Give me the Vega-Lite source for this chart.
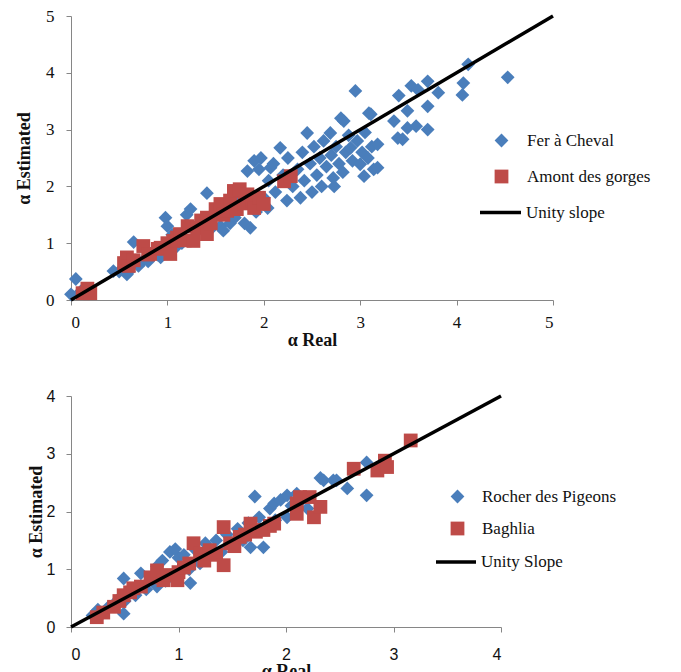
{
  "$schema": "https://vega.github.io/schema/vega-lite/v6.json",
  "background": "white",
  "padding": {"left": 15, "top": 7, "right": 5, "bottom": 0},
  "spacing": 39,
  "config": {
    "font": "Liberation Serif",
    "view": {"stroke": null},
    "axis": {"grid": false, "domainColor": "#868686", "tickColor": "#868686", "tickSize": 5, "labelColor": "#111", "titleColor": "#111", "titleFont": "Liberation Serif", "titleFontWeight": "bold", "titleFontSize": 18, "format": "d"},
    "legend": {"labelFont": "Liberation Serif", "labelFontSize": 17, "labelColor": "#111", "labelLimit": 300, "title": null}
  },
  "datasets": {
    "top": [
      {"series": "Fer à Cheval", "x": 0.0, "y": 0.1}, {"series": "Fer à Cheval", "x": 0.05, "y": 0.37}, {"series": "Fer à Cheval", "x": 0.1, "y": 0.15},
      {"series": "Fer à Cheval", "x": 0.44, "y": 0.51}, {"series": "Fer à Cheval", "x": 0.5, "y": 0.5}, {"series": "Fer à Cheval", "x": 0.55, "y": 0.55}, {"series": "Fer à Cheval", "x": 0.58, "y": 0.45}, {"series": "Fer à Cheval", "x": 0.6, "y": 0.5},
      {"series": "Fer à Cheval", "x": 0.65, "y": 1.02}, {"series": "Fer à Cheval", "x": 0.7, "y": 0.6}, {"series": "Fer à Cheval", "x": 0.75, "y": 0.7}, {"series": "Fer à Cheval", "x": 0.8, "y": 0.68},
      {"series": "Fer à Cheval", "x": 0.85, "y": 0.85}, {"series": "Fer à Cheval", "x": 0.9, "y": 0.8}, {"series": "Fer à Cheval", "x": 0.93, "y": 0.75}, {"series": "Fer à Cheval", "x": 0.95, "y": 0.95},
      {"series": "Fer à Cheval", "x": 0.98, "y": 1.45}, {"series": "Fer à Cheval", "x": 1.0, "y": 1.3}, {"series": "Fer à Cheval", "x": 1.05, "y": 1.15}, {"series": "Fer à Cheval", "x": 1.1, "y": 0.95},
      {"series": "Fer à Cheval", "x": 1.15, "y": 1.0}, {"series": "Fer à Cheval", "x": 1.2, "y": 1.5}, {"series": "Fer à Cheval", "x": 1.24, "y": 1.6}, {"series": "Fer à Cheval", "x": 1.3, "y": 1.2},
      {"series": "Fer à Cheval", "x": 1.35, "y": 1.35}, {"series": "Fer à Cheval", "x": 1.41, "y": 1.88}, {"series": "Fer à Cheval", "x": 1.45, "y": 1.25}, {"series": "Fer à Cheval", "x": 1.5, "y": 1.55},
      {"series": "Fer à Cheval", "x": 1.55, "y": 1.3}, {"series": "Fer à Cheval", "x": 1.58, "y": 1.22}, {"series": "Fer à Cheval", "x": 1.6, "y": 1.7}, {"series": "Fer à Cheval", "x": 1.65, "y": 1.35},
      {"series": "Fer à Cheval", "x": 1.7, "y": 1.45}, {"series": "Fer à Cheval", "x": 1.75, "y": 1.8}, {"series": "Fer à Cheval", "x": 1.8, "y": 1.35}, {"series": "Fer à Cheval", "x": 1.83, "y": 2.27},
      {"series": "Fer à Cheval", "x": 1.86, "y": 1.27}, {"series": "Fer à Cheval", "x": 1.9, "y": 2.45}, {"series": "Fer à Cheval", "x": 1.92, "y": 1.55}, {"series": "Fer à Cheval", "x": 1.95, "y": 2.3},
      {"series": "Fer à Cheval", "x": 1.97, "y": 2.5}, {"series": "Fer à Cheval", "x": 2.0, "y": 1.8}, {"series": "Fer à Cheval", "x": 2.04, "y": 1.62}, {"series": "Fer à Cheval", "x": 2.05, "y": 2.1},
      {"series": "Fer à Cheval", "x": 2.07, "y": 2.33}, {"series": "Fer à Cheval", "x": 2.1, "y": 2.4}, {"series": "Fer à Cheval", "x": 2.12, "y": 1.9}, {"series": "Fer à Cheval", "x": 2.17, "y": 2.68},
      {"series": "Fer à Cheval", "x": 2.2, "y": 2.2}, {"series": "Fer à Cheval", "x": 2.24, "y": 1.75}, {"series": "Fer à Cheval", "x": 2.25, "y": 2.5}, {"series": "Fer à Cheval", "x": 2.3, "y": 2.0},
      {"series": "Fer à Cheval", "x": 2.35, "y": 2.3}, {"series": "Fer à Cheval", "x": 2.38, "y": 1.8}, {"series": "Fer à Cheval", "x": 2.4, "y": 2.6}, {"series": "Fer à Cheval", "x": 2.42, "y": 2.1},
      {"series": "Fer à Cheval", "x": 2.45, "y": 2.94}, {"series": "Fer à Cheval", "x": 2.48, "y": 2.4}, {"series": "Fer à Cheval", "x": 2.5, "y": 1.9}, {"series": "Fer à Cheval", "x": 2.52, "y": 2.7},
      {"series": "Fer à Cheval", "x": 2.55, "y": 2.2}, {"series": "Fer à Cheval", "x": 2.58, "y": 2.5}, {"series": "Fer à Cheval", "x": 2.6, "y": 2.0}, {"series": "Fer à Cheval", "x": 2.62, "y": 2.8},
      {"series": "Fer à Cheval", "x": 2.65, "y": 2.35}, {"series": "Fer à Cheval", "x": 2.69, "y": 2.94}, {"series": "Fer à Cheval", "x": 2.7, "y": 2.55}, {"series": "Fer à Cheval", "x": 2.72, "y": 2.15},
      {"series": "Fer à Cheval", "x": 2.73, "y": 2.0}, {"series": "Fer à Cheval", "x": 2.75, "y": 2.7}, {"series": "Fer à Cheval", "x": 2.78, "y": 2.4}, {"series": "Fer à Cheval", "x": 2.8, "y": 3.2},
      {"series": "Fer à Cheval", "x": 2.82, "y": 2.25}, {"series": "Fer à Cheval", "x": 2.83, "y": 3.15}, {"series": "Fer à Cheval", "x": 2.85, "y": 2.6}, {"series": "Fer à Cheval", "x": 2.88, "y": 2.9},
      {"series": "Fer à Cheval", "x": 2.9, "y": 2.68}, {"series": "Fer à Cheval", "x": 2.92, "y": 2.45}, {"series": "Fer à Cheval", "x": 2.95, "y": 3.68}, {"series": "Fer à Cheval", "x": 2.97, "y": 2.8},
      {"series": "Fer à Cheval", "x": 3.0, "y": 2.39}, {"series": "Fer à Cheval", "x": 3.02, "y": 2.6}, {"series": "Fer à Cheval", "x": 3.04, "y": 2.18}, {"series": "Fer à Cheval", "x": 3.05, "y": 2.95},
      {"series": "Fer à Cheval", "x": 3.08, "y": 2.5}, {"series": "Fer à Cheval", "x": 3.09, "y": 3.29}, {"series": "Fer à Cheval", "x": 3.11, "y": 3.27}, {"series": "Fer à Cheval", "x": 3.12, "y": 2.7},
      {"series": "Fer à Cheval", "x": 3.14, "y": 2.3}, {"series": "Fer à Cheval", "x": 3.18, "y": 2.74}, {"series": "Fer à Cheval", "x": 3.18, "y": 2.33}, {"series": "Fer à Cheval", "x": 3.35, "y": 3.15},
      {"series": "Fer à Cheval", "x": 3.39, "y": 2.85}, {"series": "Fer à Cheval", "x": 3.4, "y": 3.6}, {"series": "Fer à Cheval", "x": 3.44, "y": 2.83}, {"series": "Fer à Cheval", "x": 3.49, "y": 3.33},
      {"series": "Fer à Cheval", "x": 3.49, "y": 3.03}, {"series": "Fer à Cheval", "x": 3.53, "y": 3.77}, {"series": "Fer à Cheval", "x": 3.58, "y": 3.06}, {"series": "Fer à Cheval", "x": 3.6, "y": 3.7},
      {"series": "Fer à Cheval", "x": 3.7, "y": 3.85}, {"series": "Fer à Cheval", "x": 3.7, "y": 3.41}, {"series": "Fer à Cheval", "x": 3.7, "y": 3.0}, {"series": "Fer à Cheval", "x": 3.81, "y": 3.65},
      {"series": "Fer à Cheval", "x": 4.06, "y": 3.61}, {"series": "Fer à Cheval", "x": 4.07, "y": 3.82}, {"series": "Fer à Cheval", "x": 4.12, "y": 4.15}, {"series": "Fer à Cheval", "x": 4.53, "y": 3.92},
      {"series": "Amont des gorges", "x": 0.12, "y": 0.12}, {"series": "Amont des gorges", "x": 0.17, "y": 0.2}, {"series": "Amont des gorges", "x": 0.2, "y": 0.12},
      {"series": "Amont des gorges", "x": 0.55, "y": 0.65}, {"series": "Amont des gorges", "x": 0.58, "y": 0.75}, {"series": "Amont des gorges", "x": 0.6, "y": 0.6}, {"series": "Amont des gorges", "x": 0.65, "y": 0.7},
      {"series": "Amont des gorges", "x": 0.75, "y": 0.95}, {"series": "Amont des gorges", "x": 0.8, "y": 0.8}, {"series": "Amont des gorges", "x": 0.82, "y": 0.81}, {"series": "Amont des gorges", "x": 0.9, "y": 0.9},
      {"series": "Amont des gorges", "x": 0.93, "y": 0.92}, {"series": "Amont des gorges", "x": 1.0, "y": 1.0}, {"series": "Amont des gorges", "x": 1.03, "y": 0.81}, {"series": "Amont des gorges", "x": 1.06, "y": 1.04},
      {"series": "Amont des gorges", "x": 1.1, "y": 1.1}, {"series": "Amont des gorges", "x": 1.13, "y": 1.16}, {"series": "Amont des gorges", "x": 1.18, "y": 1.05}, {"series": "Amont des gorges", "x": 1.21, "y": 1.3},
      {"series": "Amont des gorges", "x": 1.27, "y": 1.04}, {"series": "Amont des gorges", "x": 1.31, "y": 1.27}, {"series": "Amont des gorges", "x": 1.35, "y": 1.4}, {"series": "Amont des gorges", "x": 1.41, "y": 1.16},
      {"series": "Amont des gorges", "x": 1.41, "y": 1.45}, {"series": "Amont des gorges", "x": 1.45, "y": 1.35}, {"series": "Amont des gorges", "x": 1.5, "y": 1.6}, {"series": "Amont des gorges", "x": 1.55, "y": 1.69},
      {"series": "Amont des gorges", "x": 1.58, "y": 1.5}, {"series": "Amont des gorges", "x": 1.62, "y": 1.57}, {"series": "Amont des gorges", "x": 1.65, "y": 1.75}, {"series": "Amont des gorges", "x": 1.69, "y": 1.92},
      {"series": "Amont des gorges", "x": 1.72, "y": 1.6}, {"series": "Amont des gorges", "x": 1.75, "y": 1.95}, {"series": "Amont des gorges", "x": 1.8, "y": 1.7}, {"series": "Amont des gorges", "x": 1.83, "y": 1.86},
      {"series": "Amont des gorges", "x": 1.88, "y": 1.75}, {"series": "Amont des gorges", "x": 1.9, "y": 1.62}, {"series": "Amont des gorges", "x": 1.95, "y": 1.8}, {"series": "Amont des gorges", "x": 2.0, "y": 1.69},
      {"series": "Amont des gorges", "x": 2.21, "y": 2.09}, {"series": "Amont des gorges", "x": 2.28, "y": 2.18}
    ],
    "topLine": [{"label": "Unity slope", "x": 0, "y": 0}, {"label": "Unity slope", "x": 5, "y": 5}],
    "bottom": [
      {"series": "Rocher des Pigeons", "x": 0.2, "y": 0.2}, {"series": "Rocher des Pigeons", "x": 0.25, "y": 0.3}, {"series": "Rocher des Pigeons", "x": 0.3, "y": 0.25}, {"series": "Rocher des Pigeons", "x": 0.35, "y": 0.35},
      {"series": "Rocher des Pigeons", "x": 0.4, "y": 0.4}, {"series": "Rocher des Pigeons", "x": 0.45, "y": 0.5}, {"series": "Rocher des Pigeons", "x": 0.49, "y": 0.84}, {"series": "Rocher des Pigeons", "x": 0.49, "y": 0.23},
      {"series": "Rocher des Pigeons", "x": 0.5, "y": 0.45}, {"series": "Rocher des Pigeons", "x": 0.55, "y": 0.6}, {"series": "Rocher des Pigeons", "x": 0.6, "y": 0.55}, {"series": "Rocher des Pigeons", "x": 0.65, "y": 0.93},
      {"series": "Rocher des Pigeons", "x": 0.65, "y": 0.7}, {"series": "Rocher des Pigeons", "x": 0.7, "y": 0.65}, {"series": "Rocher des Pigeons", "x": 0.75, "y": 0.85}, {"series": "Rocher des Pigeons", "x": 0.8, "y": 1.05},
      {"series": "Rocher des Pigeons", "x": 0.8, "y": 0.7}, {"series": "Rocher des Pigeons", "x": 0.85, "y": 1.15}, {"series": "Rocher des Pigeons", "x": 0.88, "y": 0.8}, {"series": "Rocher des Pigeons", "x": 0.92, "y": 1.3},
      {"series": "Rocher des Pigeons", "x": 0.95, "y": 0.9}, {"series": "Rocher des Pigeons", "x": 0.97, "y": 1.35}, {"series": "Rocher des Pigeons", "x": 1.0, "y": 1.2}, {"series": "Rocher des Pigeons", "x": 1.02, "y": 0.95},
      {"series": "Rocher des Pigeons", "x": 1.05, "y": 1.25}, {"series": "Rocher des Pigeons", "x": 1.1, "y": 1.0}, {"series": "Rocher des Pigeons", "x": 1.11, "y": 0.76}, {"series": "Rocher des Pigeons", "x": 1.15, "y": 1.35},
      {"series": "Rocher des Pigeons", "x": 1.2, "y": 1.1}, {"series": "Rocher des Pigeons", "x": 1.25, "y": 1.45}, {"series": "Rocher des Pigeons", "x": 1.3, "y": 1.25}, {"series": "Rocher des Pigeons", "x": 1.35, "y": 1.5},
      {"series": "Rocher des Pigeons", "x": 1.4, "y": 1.3}, {"series": "Rocher des Pigeons", "x": 1.45, "y": 1.6}, {"series": "Rocher des Pigeons", "x": 1.5, "y": 1.45}, {"series": "Rocher des Pigeons", "x": 1.55, "y": 1.7},
      {"series": "Rocher des Pigeons", "x": 1.6, "y": 1.5}, {"series": "Rocher des Pigeons", "x": 1.65, "y": 1.8}, {"series": "Rocher des Pigeons", "x": 1.67, "y": 1.38}, {"series": "Rocher des Pigeons", "x": 1.71, "y": 2.26},
      {"series": "Rocher des Pigeons", "x": 1.75, "y": 1.9}, {"series": "Rocher des Pigeons", "x": 1.79, "y": 1.38}, {"series": "Rocher des Pigeons", "x": 1.8, "y": 1.7}, {"series": "Rocher des Pigeons", "x": 1.85, "y": 2.05},
      {"series": "Rocher des Pigeons", "x": 1.89, "y": 2.14}, {"series": "Rocher des Pigeons", "x": 1.9, "y": 1.85}, {"series": "Rocher des Pigeons", "x": 1.95, "y": 2.2}, {"series": "Rocher des Pigeons", "x": 2.01, "y": 2.28},
      {"series": "Rocher des Pigeons", "x": 2.01, "y": 1.9}, {"series": "Rocher des Pigeons", "x": 2.05, "y": 2.1}, {"series": "Rocher des Pigeons", "x": 2.1, "y": 2.31}, {"series": "Rocher des Pigeons", "x": 2.15, "y": 2.2},
      {"series": "Rocher des Pigeons", "x": 2.2, "y": 2.05}, {"series": "Rocher des Pigeons", "x": 2.32, "y": 2.58}, {"series": "Rocher des Pigeons", "x": 2.35, "y": 2.54}, {"series": "Rocher des Pigeons", "x": 2.44, "y": 2.54},
      {"series": "Rocher des Pigeons", "x": 2.47, "y": 2.54}, {"series": "Rocher des Pigeons", "x": 2.57, "y": 2.4}, {"series": "Rocher des Pigeons", "x": 2.75, "y": 2.85}, {"series": "Rocher des Pigeons", "x": 2.75, "y": 2.28},
      {"series": "Baghlia", "x": 0.24, "y": 0.17}, {"series": "Baghlia", "x": 0.3, "y": 0.25}, {"series": "Baghlia", "x": 0.4, "y": 0.35}, {"series": "Baghlia", "x": 0.45, "y": 0.45},
      {"series": "Baghlia", "x": 0.49, "y": 0.55}, {"series": "Baghlia", "x": 0.55, "y": 0.6}, {"series": "Baghlia", "x": 0.58, "y": 0.67}, {"series": "Baghlia", "x": 0.65, "y": 0.7},
      {"series": "Baghlia", "x": 0.74, "y": 0.86}, {"series": "Baghlia", "x": 0.8, "y": 0.98}, {"series": "Baghlia", "x": 0.86, "y": 0.81}, {"series": "Baghlia", "x": 0.9, "y": 0.9},
      {"series": "Baghlia", "x": 0.99, "y": 0.81}, {"series": "Baghlia", "x": 1.0, "y": 0.95}, {"series": "Baghlia", "x": 1.05, "y": 1.03}, {"series": "Baghlia", "x": 1.1, "y": 1.1},
      {"series": "Baghlia", "x": 1.14, "y": 1.45}, {"series": "Baghlia", "x": 1.2, "y": 1.27}, {"series": "Baghlia", "x": 1.24, "y": 1.15}, {"series": "Baghlia", "x": 1.29, "y": 1.33},
      {"series": "Baghlia", "x": 1.35, "y": 1.25}, {"series": "Baghlia", "x": 1.42, "y": 1.73}, {"series": "Baghlia", "x": 1.42, "y": 1.07}, {"series": "Baghlia", "x": 1.48, "y": 1.45},
      {"series": "Baghlia", "x": 1.52, "y": 1.4}, {"series": "Baghlia", "x": 1.57, "y": 1.56}, {"series": "Baghlia", "x": 1.62, "y": 1.6}, {"series": "Baghlia", "x": 1.67, "y": 1.79},
      {"series": "Baghlia", "x": 1.72, "y": 1.65}, {"series": "Baghlia", "x": 1.79, "y": 1.68}, {"series": "Baghlia", "x": 1.85, "y": 1.75}, {"series": "Baghlia", "x": 1.89, "y": 1.79},
      {"series": "Baghlia", "x": 2.1, "y": 2.14}, {"series": "Baghlia", "x": 2.1, "y": 1.96}, {"series": "Baghlia", "x": 2.13, "y": 2.25}, {"series": "Baghlia", "x": 2.22, "y": 2.25},
      {"series": "Baghlia", "x": 2.26, "y": 1.9}, {"series": "Baghlia", "x": 2.32, "y": 2.08}, {"series": "Baghlia", "x": 2.63, "y": 2.74}, {"series": "Baghlia", "x": 2.85, "y": 2.71},
      {"series": "Baghlia", "x": 2.92, "y": 2.88}, {"series": "Baghlia", "x": 2.94, "y": 2.77}, {"series": "Baghlia", "x": 3.16, "y": 3.23}
    ],
    "bottomLine": [{"label": "Unity Slope", "x": 0, "y": 0}, {"label": "Unity Slope", "x": 4, "y": 4}]
  },
  "resolve": {
    "scale": {"fill": "independent", "shape": "independent", "stroke": "independent"},
    "legend": {"fill": "independent", "shape": "independent", "stroke": "independent"}
  },
  "vconcat": [
    {
      "width": 482,
      "height": 284,
      "layer": [
        {
          "data": {"name": "top"},
          "mark": {"type": "point", "filled": true, "opacity": 1, "size": 190},
          "encoding": {
            "x": {"field": "x", "type": "quantitative", "scale": {"domain": [0, 5], "nice": false}, "axis": {"title": "α Real", "values": [0, 1, 2, 3, 4, 5], "format": "d", "labelFont": "Liberation Serif", "labelFontSize": 17, "labelPadding": 9, "titlePadding": 1}},
            "y": {"field": "y", "type": "quantitative", "scale": {"domain": [0, 5], "nice": false}, "axis": {"title": "α Estimated", "values": [0, 1, 2, 3, 4, 5], "format": "d", "labelFont": "Liberation Serif", "labelFontSize": 17, "labelPadding": 12, "titlePadding": 12}},
            "fill": {"field": "series", "type": "nominal", "sort": null, "scale": {"domain": ["Fer à Cheval", "Amont des gorges"], "range": ["#4a7ebb", "#be4b48"]}, "legend": {"orient": "none", "legendX": 422, "legendY": 116, "rowPadding": 18, "labelOffset": 17, "symbolSize": 190, "symbolStrokeWidth": 0, "labelFont": "Liberation Serif", "labelFontSize": 17}},
            "shape": {"field": "series", "type": "nominal", "sort": null, "scale": {"domain": ["Fer à Cheval", "Amont des gorges"], "range": ["diamond", "square"]}, "legend": {"orient": "none", "legendX": 422, "legendY": 116, "rowPadding": 18, "labelOffset": 17, "symbolSize": 190, "symbolStrokeWidth": 0, "labelFont": "Liberation Serif", "labelFontSize": 17}}
          }
        },
        {
          "data": {"name": "topLine"},
          "mark": {"type": "line", "strokeWidth": 3.5},
          "encoding": {
            "x": {"field": "x", "type": "quantitative"},
            "y": {"field": "y", "type": "quantitative"},
            "stroke": {"field": "label", "type": "nominal", "scale": {"range": ["black"]}, "legend": {"orient": "none", "legendX": 407, "legendY": 174, "symbolType": "stroke", "symbolSize": 1681, "symbolStrokeWidth": 3.5, "labelOffset": 3, "labelFont": "Liberation Serif", "labelFontSize": 17}}
          }
        }
      ]
    },
    {
      "width": 430,
      "height": 231,
      "layer": [
        {
          "data": {"name": "bottom"},
          "mark": {"type": "point", "filled": true, "opacity": 1, "size": 190},
          "encoding": {
            "x": {"field": "x", "type": "quantitative", "scale": {"domain": [0, 4], "nice": false}, "axis": {"title": "α Real", "values": [0, 1, 2, 3, 4], "format": "d", "labelFont": "Liberation Sans", "labelFontSize": 16, "labelPadding": 14, "titlePadding": 0}},
            "y": {"field": "y", "type": "quantitative", "scale": {"domain": [0, 4], "nice": false}, "axis": {"title": "α Estimated", "values": [0, 1, 2, 3, 4], "format": "d", "labelFont": "Liberation Sans", "labelFontSize": 16, "labelPadding": 11, "titlePadding": 1}},
            "fill": {"field": "series", "type": "nominal", "sort": null, "scale": {"domain": ["Rocher des Pigeons", "Baghlia"], "range": ["#4a7ebb", "#be4b48"]}, "legend": {"orient": "none", "legendX": 378, "legendY": 92, "rowPadding": 14, "labelOffset": 16, "symbolSize": 190, "symbolStrokeWidth": 0, "labelFont": "Liberation Serif", "labelFontSize": 17}},
            "shape": {"field": "series", "type": "nominal", "sort": null, "scale": {"domain": ["Rocher des Pigeons", "Baghlia"], "range": ["diamond", "square"]}, "legend": {"orient": "none", "legendX": 378, "legendY": 92, "rowPadding": 14, "labelOffset": 16, "symbolSize": 190, "symbolStrokeWidth": 0, "labelFont": "Liberation Serif", "labelFontSize": 17}}
          }
        },
        {
          "data": {"name": "bottomLine"},
          "mark": {"type": "line", "strokeWidth": 3.5},
          "encoding": {
            "x": {"field": "x", "type": "quantitative"},
            "y": {"field": "y", "type": "quantitative"},
            "stroke": {"field": "label", "type": "nominal", "scale": {"range": ["black"]}, "legend": {"orient": "none", "legendX": 363, "legendY": 144, "symbolType": "stroke", "symbolSize": 1600, "symbolStrokeWidth": 3.5, "labelOffset": 3, "labelFont": "Liberation Serif", "labelFontSize": 17}}
          }
        }
      ]
    }
  ]
}
